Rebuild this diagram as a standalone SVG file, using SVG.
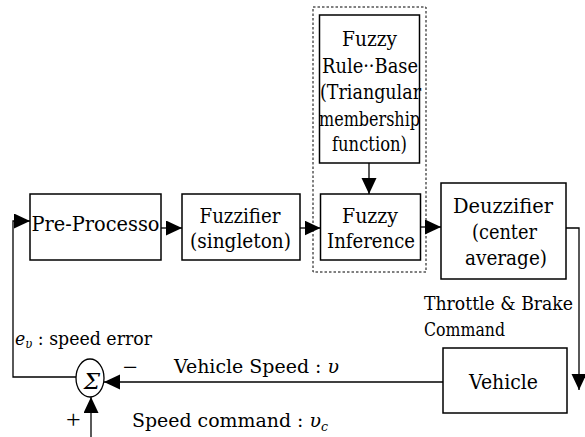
<svg xmlns="http://www.w3.org/2000/svg" width="585" height="437" viewBox="0 0 585 437">
<style>
.box{fill:#fff;stroke:#000;stroke-width:1.5}
.dash{fill:none;stroke:#000;stroke-width:1;stroke-dasharray:2.5,2}
text{font-family:'DejaVu Serif','Liberation Serif',serif;fill:#000}
.t{font-size:20px}
.s{font-size:18px}
.pm{font-family:'Liberation Serif','DejaVu Serif',serif;font-size:26px}
.sig{font-size:23px;font-style:italic}
.c{text-anchor:middle}
.ln{fill:none;stroke:#000;stroke-width:1.3}
</style>
<defs>
<marker id="ah" markerUnits="userSpaceOnUse" markerWidth="18" markerHeight="16" refX="16" refY="7.5" orient="auto">
<path d="M0,0 L16,7.5 L0,15 Z" fill="#000"/>
</marker>
</defs>
<rect width="585" height="437" fill="#fff"/>
<g id="fuzzy-block">
<rect class="dash" x="313" y="7" width="113" height="265"/>
</g>
<g id="pre-processor">
<rect class="box" x="30" y="194" width="131" height="66"/>
<text class="t c" x="95.5" y="231" textLength="128" lengthAdjust="spacingAndGlyphs">Pre-Processo</text>
</g>
<g id="fuzzifier">
<rect class="box" x="182" y="194" width="118" height="66"/>
<text class="t c" x="240" y="223" textLength="81" lengthAdjust="spacingAndGlyphs">Fuzzifier</text>
<text class="t c" x="240.5" y="248" textLength="101" lengthAdjust="spacingAndGlyphs">(singleton)</text>
</g>
<g id="rule-base">
<rect class="box" x="319.5" y="15" width="100" height="148"/>
<text class="t c" x="369.5" y="46" textLength="55" lengthAdjust="spacingAndGlyphs">Fuzzy</text>
<text class="t c" x="370" y="73" textLength="96" lengthAdjust="spacingAndGlyphs">Rule··Base</text>
<text class="t c" x="370.5" y="99" textLength="101" lengthAdjust="spacingAndGlyphs">(Triangular</text>
<text class="t c" x="369.5" y="126" textLength="101" lengthAdjust="spacingAndGlyphs">membership</text>
<text class="t c" x="369.5" y="151" textLength="75" lengthAdjust="spacingAndGlyphs">function)</text>
</g>
<g id="inference">
<rect class="box" x="320.5" y="194" width="100" height="66"/>
<text class="t c" x="370" y="223" textLength="56" lengthAdjust="spacingAndGlyphs">Fuzzy</text>
<text class="t c" x="371" y="248" textLength="88" lengthAdjust="spacingAndGlyphs">Inference</text>
</g>
<g id="defuzzifier">
<rect class="box" x="441" y="183" width="125" height="96"/>
<text class="t c" x="503" y="213" textLength="100" lengthAdjust="spacingAndGlyphs">Deuzzifier</text>
<text class="t c" x="504.5" y="239" textLength="65" lengthAdjust="spacingAndGlyphs">(center</text>
<text class="t c" x="506" y="265" textLength="82" lengthAdjust="spacingAndGlyphs">average)</text>
</g>
<g id="vehicle">
<rect class="box" x="443" y="348" width="124" height="65"/>
<text class="t c" x="503.5" y="389" textLength="69" lengthAdjust="spacingAndGlyphs">Vehicle</text>
</g>
<g id="sum">
<ellipse cx="90" cy="378" rx="14" ry="19" fill="#fff" stroke="#000" stroke-width="1.3"/>
<text class="sig c" x="92" y="389">Σ</text>
</g>
<g id="connectors">
<path class="ln" d="M161,228 L182,228" marker-end="url(#ah)"/>
<path class="ln" d="M300,228 L320.5,228" marker-end="url(#ah)"/>
<path class="ln" d="M420.5,227 L441,227" marker-end="url(#ah)"/>
<path class="ln" d="M369,163 L369,194" marker-end="url(#ah)"/>
<path class="ln" d="M566,228 L579,228 L579,390" marker-end="url(#ah)"/>
<path class="ln" d="M443,382 L104,382" marker-end="url(#ah)"/>
<path class="ln" d="M91,437 L91,397" marker-end="url(#ah)"/>
<path class="ln" d="M76,377 L13,377 L13,221 L30,221" marker-end="url(#ah)"/>
</g>
<g id="labels">
<text class="s" x="424" y="310" textLength="149" lengthAdjust="spacingAndGlyphs">Throttle &amp; Brake</text>
<text class="s" x="424" y="336" textLength="81" lengthAdjust="spacingAndGlyphs">Command</text>
<text class="s" x="15" y="345" textLength="137" lengthAdjust="spacingAndGlyphs"><tspan font-style="italic">e</tspan><tspan font-style="italic" font-size="12" dy="3">υ</tspan><tspan dy="-3"> : speed  error</tspan></text>
<text class="pm" x="123" y="376">−</text>
<text class="s" x="174" y="373" textLength="165" lengthAdjust="spacingAndGlyphs">Vehicle Speed : <tspan font-style="italic">υ</tspan></text>
<text class="pm" x="66" y="428">+</text>
<text class="s" x="132" y="427" textLength="196" lengthAdjust="spacingAndGlyphs">Speed command : <tspan font-style="italic">υ</tspan><tspan font-style="italic" font-size="12" dy="4">c</tspan></text>
</g>
</svg>
